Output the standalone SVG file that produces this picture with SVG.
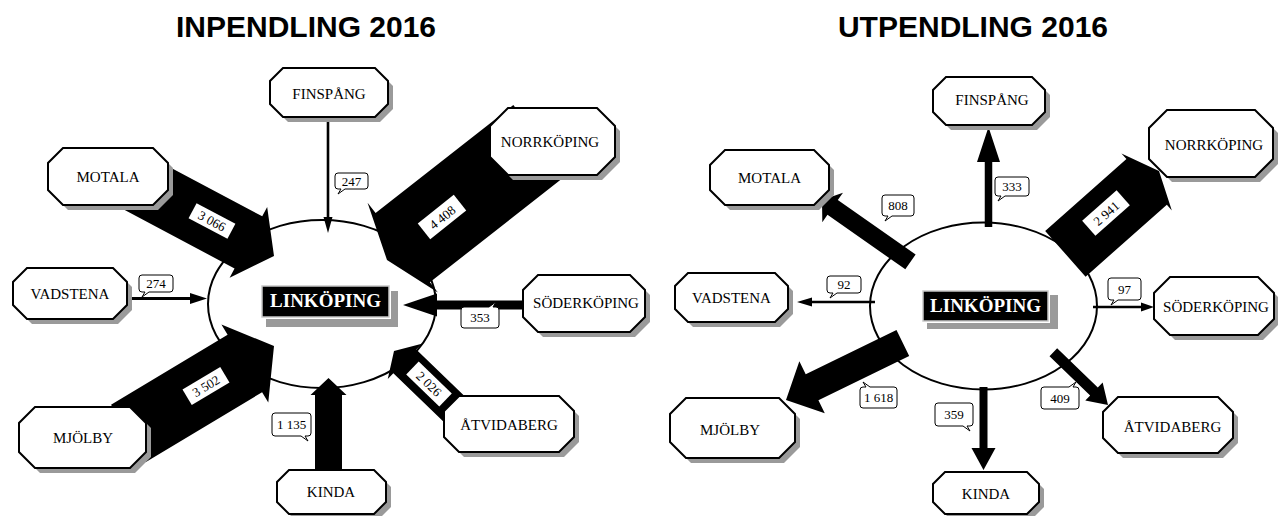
<svg xmlns="http://www.w3.org/2000/svg" width="1278" height="516" viewBox="0 0 1278 516">
<style>
.title{font-family:"Liberation Sans",Arial,sans-serif;font-weight:bold;font-size:30px;text-anchor:middle;fill:#000}
.sh{fill:#9a9a9a}
.bx{fill:#fff;stroke:#000;stroke-width:2}
.nt{font-family:"Liberation Serif","Times New Roman",serif;font-size:15px;text-anchor:middle;fill:#000}
.ell{fill:#fff;stroke:#000;stroke-width:2}
.cshadow{fill:#9a9a9a}
.cbox{fill:#000;stroke:#c8c8c8;stroke-width:1.5}
.ct{font-family:"Liberation Serif","Times New Roman",serif;font-weight:bold;font-size:19px;text-anchor:middle;fill:#fff}
.ar{fill:#000}
.co{fill:#fff;stroke:#000;stroke-width:1}
.lt{font-family:"Liberation Serif","Times New Roman",serif;font-size:13px;text-anchor:middle;fill:#000}
.wl{fill:#fff}
</style>
<rect width="1278" height="516" fill="#fff"/>
<text class="title" x="306" y="37">INPENDLING 2016</text>
<text class="title" x="973" y="37">UTPENDLING 2016</text>

<g id="linkoping-in">
<ellipse class="ell" cx="322" cy="304" rx="114" ry="84"/>
<rect class="cshadow" x="266" y="291" width="132" height="36"/>
<rect x="260" y="284" width="131" height="35" fill="#fff"/>
<rect class="cbox" x="262" y="286" width="127" height="31"/>
<text class="ct" x="325.5" y="307">LINKÖPING</text>
</g>
<g id="linkoping-ut">
<ellipse class="ell" cx="983.5" cy="306" rx="113.5" ry="83.5"/>
<rect class="cshadow" x="927" y="295" width="131" height="34"/>
<rect x="921" y="289" width="129" height="34" fill="#fff"/>
<rect class="cbox" x="923" y="291" width="125" height="30"/>
<text class="ct" x="985.5" y="312">LINKÖPING</text>
</g>

<g id="connectors">
<!-- inpendling -->
<path class="ar" transform="translate(328,233) rotate(90)" d="M-116,-1.3H-16V-4.5L0,0L-16,4.5V1.3H-116Z"/>
<path class="ar" transform="translate(274,256) rotate(28)" d="M-172,-29.5H-29V-40L0,0L-29,40V29.5H-172Z"/>
<path class="ar" transform="translate(207,298.5)" d="M-80,-1.5H-17V-5.5L0,0L-17,5.5V1.5H-80Z"/>
<path class="ar" transform="translate(274,346) rotate(-31)" d="M-170,-33.5H-34V-45.5L0,0L-34,45.5V33.5H-170Z"/>
<path class="ar" transform="translate(328.5,378) rotate(-90)" d="M-100,-13.5H-17V-18L0,0L-17,18V13.5H-100Z"/>
<path class="ar" transform="translate(394,351) rotate(-136)" d="M-100,-16.5H-15V-24.5L0,0L-15,24.5V16.5H-100Z"/>
<path class="ar" transform="translate(403,305) rotate(180)" d="M-125,-4.5H-34V-11.5L0,0L-34,11.5V4.5H-125Z"/>
<path class="ar" transform="translate(387,260) rotate(141.9)" d="M-195,-44H-20V-57L0,0L-20,57V44H-195Z"/>
<!-- utpendling -->
<path class="ar" transform="translate(988.5,127) rotate(-90)" d="M-100,-3.75H-35V-11.5L0,0L-35,11.5V3.75H-100Z"/>
<path class="ar" transform="translate(822,200) rotate(-145)" d="M-108,-9H-13V-18L0,0L-13,18V9H-108Z"/>
<path class="ar" transform="translate(797,302) rotate(180)" d="M-78,-1.2H-15V-4.5L0,0L-15,4.5V1.2H-78Z"/>
<path class="ar" transform="translate(786,400) rotate(154)" d="M-130,-14.5H-29V-29L0,0L-29,29V14.5H-130Z"/>
<path class="ar" transform="translate(983.5,470) rotate(90)" d="M-83,-4H-22V-12L0,0L-22,12V4H-83Z"/>
<path class="ar" transform="translate(1108,405) rotate(44)" d="M-76,-5.5H-19.5V-12.5L0,0L-19.5,12.5V5.5H-76Z"/>
<path class="ar" transform="translate(1154,307)" d="M-61,-1.2H-13V-4.5L0,0L-13,4.5V1.2H-61Z"/>
<path class="ar" transform="translate(1159,171) rotate(-41.5)" d="M-125,-30.5H-16.5V-38L0,0L-16.5,38V30.5H-125Z"/>

<!-- labels on wide arrows -->
<g transform="translate(212,221) rotate(28)"><rect class="wl" x="-22" y="-8.5" width="44" height="17"/><text class="lt" y="4.5" font-size="14">3 066</text></g>
<g transform="translate(206,386) rotate(-31)"><rect class="wl" x="-22" y="-9" width="44" height="18"/><text class="lt" y="4.5" font-size="14">3 502</text></g>
<g transform="translate(442,217) rotate(-38.5)"><rect class="wl" x="-23" y="-10" width="46" height="20"/><text class="lt" y="5" font-size="14">4 408</text></g>
<g transform="translate(429,384) rotate(44)"><rect class="wl" x="-23" y="-9" width="46" height="18"/><text class="lt" y="4.5" font-size="14">2 026</text></g>
<g transform="translate(1106,213) rotate(-41.5)"><rect class="wl" x="-23" y="-10" width="46" height="20"/><text class="lt" y="5" font-size="14">2 941</text></g>

<!-- callouts -->
<g transform="translate(335,173)"><path class="co" d="M3,0h27q3,0 3,3v10q0,3 -3,3h-20l-7,5 3,-5h-3q-3,0 -3,-3v-10q0,-3 3,-3z"/><text class="lt" x="16.5" y="12.5">247</text></g>
<g transform="translate(139,275)"><path class="co" d="M3,0h28q3,0 3,3v11q0,3 -3,3h-21l-7,5 3,-5h-3q-3,0 -3,-3v-11q0,-3 3,-3z"/><text class="lt" x="17" y="13">274</text></g>
<g transform="translate(272,413)"><path class="co" d="M3,0h33q3,0 3,3v17q0,3 -3,3h-3l3,5 -7,-5h-26q-3,0 -3,-3v-17q0,-3 3,-3z"/><text class="lt" x="19.5" y="16">1 135</text></g>
<g transform="translate(461,307)"><path class="co" d="M3,0h25l7,-5 -3,5h3q3,0 3,3v15q0,3 -3,3h-32q-3,0 -3,-3v-15q0,-3 3,-3z"/><text class="lt" x="19" y="15">353</text></g>
<g transform="translate(995,177)"><path class="co" d="M3,0h28q3,0 3,3v13q0,3 -3,3h-21l-7,5 3,-5h-3q-3,0 -3,-3v-13q0,-3 3,-3z"/><text class="lt" x="17" y="14">333</text></g>
<g transform="translate(882,195)"><path class="co" d="M3,0h26q3,0 3,3v15q0,3 -3,3h-19l-7,5 3,-5h-3q-3,0 -3,-3v-15q0,-3 3,-3z"/><text class="lt" x="16" y="15">808</text></g>
<g transform="translate(827,276)"><path class="co" d="M3,0h28q3,0 3,3v11q0,3 -3,3h-21l-7,5 3,-5h-3q-3,0 -3,-3v-11q0,-3 3,-3z"/><text class="lt" x="17" y="13">92</text></g>
<g transform="translate(860,387)"><path class="co" d="M3,0h3l-3,-5 7,5h24q3,0 3,3v15q0,3 -3,3h-31q-3,0 -3,-3v-15q0,-3 3,-3z"/><text class="lt" x="18.5" y="15">1 618</text></g>
<g transform="translate(935,403)"><path class="co" d="M3,0h32q3,0 3,3v17q0,3 -3,3h-3l3,5 -7,-5h-25q-3,0 -3,-3v-17q0,-3 3,-3z"/><text class="lt" x="19" y="16">359</text></g>
<g transform="translate(1041,387)"><path class="co" d="M3,0h25l7,-5 -3,5h3q3,0 3,3v16q0,3 -3,3h-32q-3,0 -3,-3v-16q0,-3 3,-3z"/><text class="lt" x="19" y="15.5">409</text></g>
<g transform="translate(1108,278)"><path class="co" d="M3,0h27q3,0 3,3v16q0,3 -3,3h-20l-7,5 3,-5h-3q-3,0 -3,-3v-16q0,-3 3,-3z"/><text class="lt" x="16.5" y="15.5">97</text></g>
</g>

<!-- INPENDLING nodes -->
<g id="in-finspang"><polygon class="sh" transform="translate(5,5)" points="283,68 375,68 388,81 388,104 375,117 283,117 270,104 270,81"/><polygon class="bx" points="283,68 375,68 388,81 388,104 375,117 283,117 270,104 270,81"/><text class="nt" x="329" y="99" font-size="16">FINSPÅNG</text></g>
<g id="in-motala"><polygon class="sh" transform="translate(5,5)" points="63,148 153,148 168,163 168,190 153,205 63,205 48,190 48,163"/><polygon class="bx" points="63,148 153,148 168,163 168,190 153,205 63,205 48,190 48,163"/><text class="nt" x="108" y="182">MOTALA</text></g>
<g id="in-vadstena"><polygon class="sh" transform="translate(5,5)" points="27,268 113,268 127,282 127,305 113,319 27,319 13,305 13,282"/><polygon class="bx" points="27,268 113,268 127,282 127,305 113,319 27,319 13,305 13,282"/><text class="nt" x="70" y="299">VADSTENA</text></g>
<g id="in-mjolby"><polygon class="sh" transform="translate(5,5)" points="35,407 130,407 146,423 146,452 130,468 35,468 19,452 19,423"/><polygon class="bx" points="35,407 130,407 146,423 146,452 130,468 35,468 19,452 19,423"/><text class="nt" x="83" y="443">MJÖLBY</text></g>
<g id="in-kinda"><polygon class="sh" transform="translate(5,5)" points="289,470 374,470 386,482 386,502 374,514 289,514 277,502 277,482"/><polygon class="bx" points="289,470 374,470 386,482 386,502 374,514 289,514 277,502 277,482"/><text class="nt" x="331" y="497">KINDA</text></g>
<g id="in-atvidaberg"><polygon class="sh" transform="translate(5,5)" points="459,396 559,396 574,411 574,437 559,452 459,452 444,437 444,411"/><polygon class="bx" points="459,396 559,396 574,411 574,437 559,452 459,452 444,437 444,411"/><text class="nt" x="509" y="430">ÅTVIDABERG</text></g>
<g id="in-soderkoping"><polygon class="sh" transform="translate(5,5)" points="538,275 630,275 645,290 645,317 630,332 538,332 523,317 523,290"/><polygon class="bx" points="538,275 630,275 645,290 645,317 630,332 538,332 523,317 523,290"/><text class="nt" x="586" y="308">SÖDERKÖPING</text></g>
<g id="in-norrkoping"><polygon class="sh" transform="translate(5,5)" points="508,108 597,108 615,126 615,157 597,175 508,175 490,157 490,126"/><polygon class="bx" points="508,108 597,108 615,126 615,157 597,175 508,175 490,157 490,126"/><text class="nt" x="550" y="147">NORRKÖPING</text></g>

<!-- UTPENDLING nodes -->
<g id="ut-finspang"><polygon class="sh" transform="translate(5,5)" points="946,77 1032,77 1045,90 1045,112 1032,125 946,125 933,112 933,90"/><polygon class="bx" points="946,77 1032,77 1045,90 1045,112 1032,125 946,125 933,112 933,90"/><text class="nt" x="992" y="105">FINSPÅNG</text></g>
<g id="ut-motala"><polygon class="sh" transform="translate(5,5)" points="725,150 814,150 829,165 829,190 814,205 725,205 710,190 710,165"/><polygon class="bx" points="725,150 814,150 829,165 829,190 814,205 725,205 710,190 710,165"/><text class="nt" x="769.5" y="183">MOTALA</text></g>
<g id="ut-vadstena"><polygon class="sh" transform="translate(5,5)" points="688,273 775,273 788,286 788,309 775,322 688,322 675,309 675,286"/><polygon class="bx" points="688,273 775,273 788,286 788,309 775,322 688,322 675,309 675,286"/><text class="nt" x="731.5" y="303">VADSTENA</text></g>
<g id="ut-mjolby"><polygon class="sh" transform="translate(5,5)" points="686,398 779,398 795,414 795,442 779,458 686,458 670,442 670,414"/><polygon class="bx" points="686,398 779,398 795,414 795,442 779,458 686,458 670,442 670,414"/><text class="nt" x="730" y="435">MJÖLBY</text></g>
<g id="ut-kinda"><polygon class="sh" transform="translate(5,5)" points="945,472 1027,472 1039,484 1039,502 1027,514 945,514 933,502 933,484"/><polygon class="bx" points="945,472 1027,472 1039,484 1039,502 1027,514 945,514 933,502 933,484"/><text class="nt" x="986" y="499">KINDA</text></g>
<g id="ut-atvidaberg"><polygon class="sh" transform="translate(5,5)" points="1118,397 1218,397 1233,412 1233,438 1218,453 1118,453 1103,438 1103,412"/><polygon class="bx" points="1118,397 1218,397 1233,412 1233,438 1218,453 1118,453 1103,438 1103,412"/><text class="nt" x="1172.5" y="432">ÅTVIDABERG</text></g>
<g id="ut-soderkoping"><polygon class="sh" transform="translate(5,5)" points="1170,277 1258,277 1274,293 1274,319 1258,335 1170,335 1154,319 1154,293"/><polygon class="bx" points="1170,277 1258,277 1274,293 1274,319 1258,335 1170,335 1154,319 1154,293"/><text class="nt" x="1216" y="312">SÖDERKÖPING</text></g>
<g id="ut-norrkoping"><polygon class="sh" transform="translate(5,5)" points="1167,110 1255,110 1273,128 1273,159 1255,177 1167,177 1149,159 1149,128"/><polygon class="bx" points="1167,110 1255,110 1273,128 1273,159 1255,177 1167,177 1149,159 1149,128"/><text class="nt" x="1214" y="150">NORRKÖPING</text></g>
</svg>
